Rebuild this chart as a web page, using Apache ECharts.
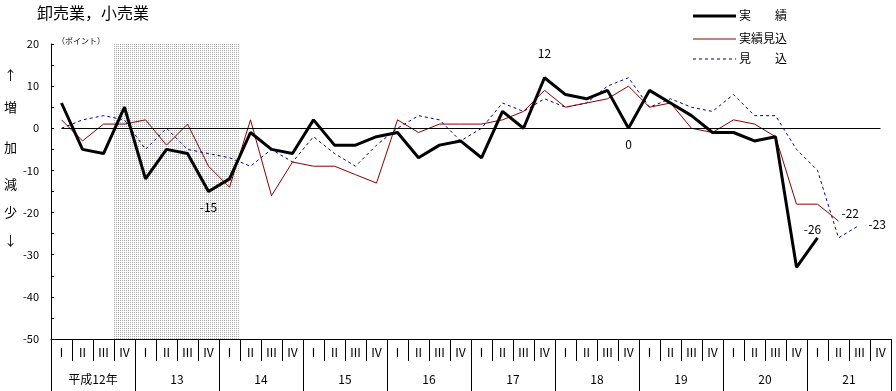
<!DOCTYPE html>
<html><head><meta charset="utf-8">
<script src="https://cdn.jsdelivr.net/npm/echarts@6/dist/echarts.min.js"></script>
<style>html,body{margin:0;padding:0;background:#fff}#c{width:896px;height:391px}</style>
</head><body><div id="c"></div>
<script>
const years = ['平成12年','13','14','15','16','17','18','19','20','21'];
const quarters = ['Ⅰ','Ⅱ','Ⅲ','Ⅳ'];
const jisseki = [6,-5,-6,5,-12,-5,-6,-15,-12,-1,-5,-6,2,-4,-4,-2,-1,-7,-4,-3,-7,4,0,12,8,7,9,0,9,6,3,-1,-1,-3,-2,-33,-26,null,null,null];
const jissekiMikomi = [2,-3,1,1,2,-4,1,-9,-14,2,-16,-8,-9,-9,-11,-13,2,-1,1,1,1,2,4,9,5,6,7,10,5,6,0,-1,2,1,-2,-18,-18,-22,null,null];
const mikomi = [0,2,3,2,-5,0,-5,-6,-7,-9,-5,-8,-2,-6,-9,-4,0,3,2,-3,0,6,4,7,5,6,10,12,5,7,5,4,8,3,3,-5,-10,-26,-23,null];
const shadeRange = [3, 8]; // 平成12年Ⅳ〜14年Ⅰ
const jissekiLabels = {7:'bottom', 23:'top', 27:'bottom', 36:'top'};
const mikomiEndLabel = 38;
const jissekiMikomiEndLabel = 37;

const cats = [];
years.forEach((y, yi) => quarters.forEach((q, qi) => cats.push(yi + '-' + q)));

const FONT = '"Noto Sans CJK JP", sans-serif';

// dotted pattern for shading
const pc = document.createElement('canvas');
pc.width = 2; pc.height = 2;
const pctx = pc.getContext('2d');
pctx.fillStyle = '#ffffff'; pctx.fillRect(0,0,2,2);
pctx.fillStyle = '#acacac'; pctx.fillRect(0,0,1,1);

const noLab = {show: false};
const blackData = jisseki.map((v, i) => {
  if (jissekiLabels[i] === undefined) return {value: v, label: noLab};
  const pos = jissekiLabels[i];
  let lab = {show: true, position: pos, distance: pos === 'top' ? 18 : 10};
  if (i === 36) lab = {show: true, position: 'top', distance: 2, offset: [-5, 0]};
  return {value: v, label: lab};
});
const redData = jissekiMikomi.map((v, i) => i === jissekiMikomiEndLabel ?
  {value: v, label: {show: true, position: 'right', distance: 3, offset: [0, -8]}} : {value: v, label: noLab});
const blueData = mikomi.map((v, i) => i === mikomiEndLabel ?
  {value: v, label: {show: true, position: 'right', distance: 9, offset: [0, -1]}} : {value: v, label: noLab});

const chart = echarts.init(document.getElementById('c'));
const labelStyle = {show: false, color: '#000', fontSize: 12, fontFamily: FONT};
const sym = {symbol: 'circle', symbolSize: 0.01, showSymbol: true, showAllSymbol: true};

chart.setOption({
  animation: false,
  backgroundColor: '#fff',
  grid: {left: 51, right: 5, top: 44, bottom: 52},
  xAxis: [{
    type: 'category', data: cats, position: 'bottom',
    axisLine: {show: true, onZero: false, lineStyle: {color: '#000', width: 1}},
    axisTick: {show: true, inside: false, length: 22, interval: 0, lineStyle: {color: '#000'}},
    axisLabel: {interval: 0, margin: 7, color: '#000', fontSize: 12, fontFamily: FONT,
      formatter: v => v.split('-')[1]},
    splitLine: {show: false}
  }, {
    type: 'category', data: years, position: 'bottom', offset: 0,
    axisLine: {show: false, onZero: false},
    axisTick: {show: true, inside: false, length: 52, interval: 0, lineStyle: {color: '#000'}},
    axisLabel: {interval: 0, margin: 34, color: '#000', fontSize: 12, fontFamily: FONT},
    splitLine: {show: false}
  }],
  yAxis: {
    type: 'value', min: -50, max: 20, interval: 5,
    axisLine: {show: true, lineStyle: {color: '#000'}},
    axisTick: {show: true, inside: true, length: 3, lineStyle: {color: '#000'}},
    axisLabel: {color: '#000', fontSize: 11, fontFamily: FONT, margin: 12,
      formatter: v => (v % 10 === 0 ? String(v) : '')},
    splitLine: {show: false}
  },
  series: [{
    type: 'custom', xAxisIndex: 0, silent: true, z: 0,
    data: [shadeRange],
    renderItem: (params, api) => {
      const bw = api.size([1, 0])[0];
      const x0 = api.coord([api.value(0), 0])[0] - bw / 2;
      const x1 = api.coord([api.value(1), 0])[0] + bw / 2;
      const cs = params.coordSys;
      return {type: 'rect', shape: {x: x0, y: cs.y, width: x1 - x0, height: cs.height},
        style: {fill: {image: pc, repeat: 'repeat'}}};
    },
    encode: {x: [0, 1]}
  }, Object.assign({
    name: '見込', type: 'line', data: blueData, z: 3,
    itemStyle: {color: '#00008b'},
    lineStyle: {color: '#00008b', width: 1, type: [3, 3]},
    label: labelStyle
  }, sym), Object.assign({
    name: '実績見込', type: 'line', data: redData, z: 4,
    itemStyle: {color: '#8b0000'},
    lineStyle: {color: '#8b0000', width: 1},
    label: labelStyle
  }, sym), Object.assign({
    name: '実績', type: 'line', data: blackData, z: 5,
    itemStyle: {color: '#000'},
    lineStyle: {color: '#000', width: 3},
    label: labelStyle,
    markLine: {
      silent: true, symbol: 'none', label: {show: false},
      lineStyle: {color: '#000', width: 1, type: 'solid'},
      data: [[{coord: [cats[0], 0]}, {coord: [cats[cats.length - 1], 0]}]]
    }
  }, sym)],
  graphic: [
    {type: 'text', left: 37, top: 5, style: {text: '卸売業，小売業', font: '16px ' + FONT, fill: '#000'}},
    {type: 'text', left: 57, top: 37, style: {text: '（ポイント）', font: '8px ' + FONT, fill: '#000'}},
    {type: 'text', left: 4, top: 69, style: {text: '↑', font: '13px ' + FONT, fill: '#000'}},
    {type: 'text', left: 4, top: 101, style: {text: '増', font: '13px ' + FONT, fill: '#000'}},
    {type: 'text', left: 4, top: 141, style: {text: '加', font: '13px ' + FONT, fill: '#000'}},
    {type: 'text', left: 4, top: 178, style: {text: '減', font: '13px ' + FONT, fill: '#000'}},
    {type: 'text', left: 4, top: 206, style: {text: '少', font: '13px ' + FONT, fill: '#000'}},
    {type: 'text', left: 4, top: 234, style: {text: '↓', font: '13px ' + FONT, fill: '#000'}},
    {type: 'line', shape: {x1: 693, y1: 16, x2: 736, y2: 16}, style: {stroke: '#000', lineWidth: 3}},
    {type: 'text', left: 739, top: 9, style: {text: '実　　績', font: '12px ' + FONT, fill: '#000'}},
    {type: 'line', shape: {x1: 693, y1: 39, x2: 736, y2: 39}, style: {stroke: '#8b0000', lineWidth: 1}},
    {type: 'text', left: 739, top: 32, style: {text: '実績見込', font: '12px ' + FONT, fill: '#000'}},
    {type: 'line', shape: {x1: 693, y1: 59, x2: 736, y2: 59}, style: {stroke: '#00008b', lineWidth: 1, lineDash: [3, 3]}},
    {type: 'text', left: 739, top: 52, style: {text: '見　　込', font: '12px ' + FONT, fill: '#000'}}
  ]
});
</script>
</body></html>
